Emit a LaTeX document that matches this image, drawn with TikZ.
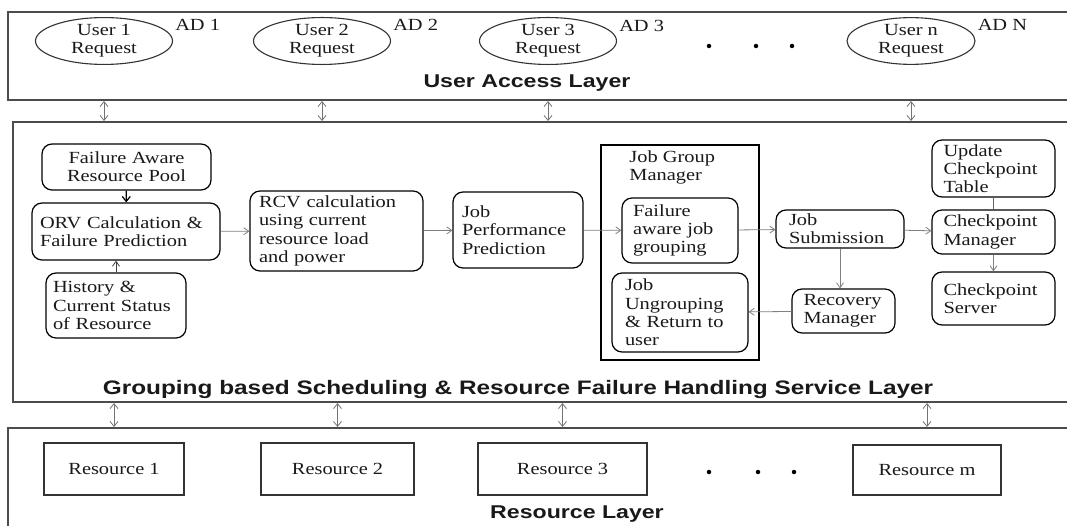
\documentclass[tikz,border=0pt]{standalone}
\usepackage{fontspec}
\setmainfont{Liberation Serif}[FakeStretch=1.2]
\newfontfamily\layerfont{Liberation Sans}[FakeStretch=1.25]
\usetikzlibrary{shapes.geometric,arrows.meta}

\begin{document}
\begin{tikzpicture}[x=1pt,y=-1pt,
  every node/.style={font=\fontsize{17}{18.3}\selectfont, text=black!90},
  layerbox/.style={draw=black!70, line width=2pt, inner sep=0pt},
  layertxt/.style={font=\layerfont\bfseries\fontsize{18.5}{20}\selectfont, inner sep=0pt},
  usrell/.style={draw=black!80, ellipse, line width=1.1pt, inner sep=0pt, minimum width=137pt, minimum height=44pt, align=center},
  adtxt/.style={anchor=west, inner sep=0pt},
  rbox/.style={draw, rounded corners=10pt, line width=1.2pt, align=left, inner xsep=0pt, inner ysep=1pt},
  resbox/.style={draw=black!80, line width=1.3pt, inner sep=0pt, minimum height=52pt},
  link/.style={-{Straight Barb[length=5pt,width=7pt]}, draw=black!50, line width=0.8pt},
  blklink/.style={-{Straight Barb[length=5pt,width=8pt]}, draw=black, line width=1.2pt},
  dbllink/.style={{Straight Barb[length=5pt,width=8pt]}-{Straight Barb[length=5pt,width=8pt]}, draw=black!55, line width=0.8pt},
  dot/.style={circle, fill=black, inner sep=0pt, minimum size=4.5pt}
]
\useasboundingbox (0,0) rectangle (1067,526);

%Shape: Rectangle [layers]
\node[layerbox, minimum width=1072pt, minimum height=88pt] (ual) at (544,56) {};
\node[layerbox, minimum width=1067pt, minimum height=280pt] (gsl) at (546.5,262) {};
\node[layerbox, minimum width=1072pt, minimum height=112pt] (rl) at (544,484) {};

% Text Node
\node[layertxt] (ualtxt) at (527,83) {User Access Layer};
\node[layertxt, font=\layerfont\bfseries\fontsize{19.5}{20}\selectfont] (gsltxt) at (518,389) {Grouping based Scheduling \& Resource Failure Handling Service Layer};
\node[layertxt] (rltxt) at (577,514) {Resource Layer};

%Shape: Ellipse [user requests]
\node[usrell] (user1) at (104,41) {User 1\\Request};
\node[usrell] (user2) at (322,41) {User 2\\Request};
\node[usrell] (user3) at (548,41) {User 3\\Request};
\node[usrell, minimum width=128pt] (usern) at (911,41) {User n\\Request};
\node[adtxt] (ad1) at ([xshift=2pt,yshift=16pt]user1.east) {AD 1};
\node[adtxt] (ad2) at ([xshift=2pt,yshift=16pt]user2.east) {AD 2};
\node[adtxt] (ad3) at ([xshift=2pt,yshift=15pt]user3.east) {AD 3};
\node[adtxt] (adn) at ([xshift=2pt,yshift=16pt]usern.east) {AD N};
\node[dot] (ud1) at (709,46) {};
\node[dot] (ud2) at (756,46) {};
\node[dot] (ud3) at (792,46) {};

%Shape: Rounded Rectangle [service layer]
\node[rbox, align=center, minimum width=169pt, minimum height=46pt, text width=160pt] (pool) at (126.5,167) {Failure Aware\\Resource Pool};
\node[rbox, minimum width=188pt, minimum height=57pt, text width=172pt] (orv) at (126,231.5) {ORV Calculation \&\\Failure Prediction};
\node[rbox, minimum width=140pt, minimum height=65pt, text width=126pt] (hist) at (116,305.5) {History \&\\Current Status\\of Resource};
\node[rbox, minimum width=173pt, minimum height=80pt, text width=155pt] (rcv) at (336.5,231) {RCV calculation\\using current\\resource load\\and power};
\node[rbox, minimum width=130pt, minimum height=76pt, text width=112pt] (jpp) at (518,230) {Job\\Performance\\Prediction};

%Shape: Rectangle [job group manager]
\node[draw, line width=1.6pt, inner sep=0pt, minimum width=158pt, minimum height=215pt] (grp) at (680,252.5) {};
\node[anchor=north west, align=left, inner sep=0pt] (grptxt) at ([xshift=29pt,yshift=-6pt]grp.north west) {Job Group\\Manager};
\node[rbox, minimum width=116pt, minimum height=65pt, text width=94pt] (fajg) at (680,230.5) {Failure\\aware job\\grouping};
\node[rbox, minimum width=136pt, minimum height=79pt, text width=110pt] (ungrp) at (680,312.5) {Job\\Ungrouping\\\& Return to\\user};

\node[rbox, minimum width=128pt, minimum height=38pt, text width=102pt] (sub) at (840,229) {Job\\Submission};
\node[rbox, minimum width=103pt, minimum height=44pt, text width=80pt] (rec) at (843.5,311) {Recovery\\Manager};
\node[rbox, minimum width=123pt, minimum height=57pt, text width=100pt] (upd) at (993.5,168.5) {Update\\Checkpoint\\Table};
\node[rbox, minimum width=123pt, minimum height=44pt, text width=100pt] (cpm) at (993.5,232) {Checkpoint\\Manager};
\node[rbox, minimum width=123pt, minimum height=53pt, text width=100pt] (cps) at (993.5,298.5) {Checkpoint\\Server};

%Shape: Rectangle [resources]
\node[resbox, minimum width=140pt] (res1) at (114,469) {Resource 1};
\node[resbox, minimum width=153pt] (res2) at (337.5,469) {Resource 2};
\node[resbox, minimum width=169pt] (res3) at (562.5,469) {Resource 3};
\node[resbox, minimum width=148pt, minimum height=50pt] (resm) at (927,470) {Resource m};
\node[dot] (rd1) at (709,472) {};
\node[dot] (rd2) at (758,472) {};
\node[dot] (rd3) at (794,472) {};

% Connectors
\draw[blklink] (pool) -- (orv);
\draw[link, draw=black!75] (hist) -- (hist |- orv.south);
\draw[link] (orv) -- (rcv);
\draw[link] (rcv) -- (jpp);
\draw[link] (jpp) -- (fajg);
\draw[link] (fajg) -- (sub);
\draw[link] (sub) -- (cpm);
\draw[link] (sub) -- (sub |- rec.north);
\draw[link] (rec) -- (ungrp);
\draw[draw=black!60, line width=0.9pt] (upd) -- (cpm);
\draw[link] (cpm) -- (cps);

% Layer links
\draw[dbllink] (ual.south -| user1) -- (gsl.north -| user1);
\draw[dbllink] (ual.south -| user2) -- (gsl.north -| user2);
\draw[dbllink] (ual.south -| user3) -- (gsl.north -| user3);
\draw[dbllink] (ual.south -| usern) -- (gsl.north -| usern);
\draw[dbllink] (gsl.south -| res1) -- (rl.north -| res1);
\draw[dbllink] (gsl.south -| res2) -- (rl.north -| res2);
\draw[dbllink] (gsl.south -| res3) -- (rl.north -| res3);
\draw[dbllink] (gsl.south -| resm) -- (rl.north -| resm);
\end{tikzpicture}
\end{document}
